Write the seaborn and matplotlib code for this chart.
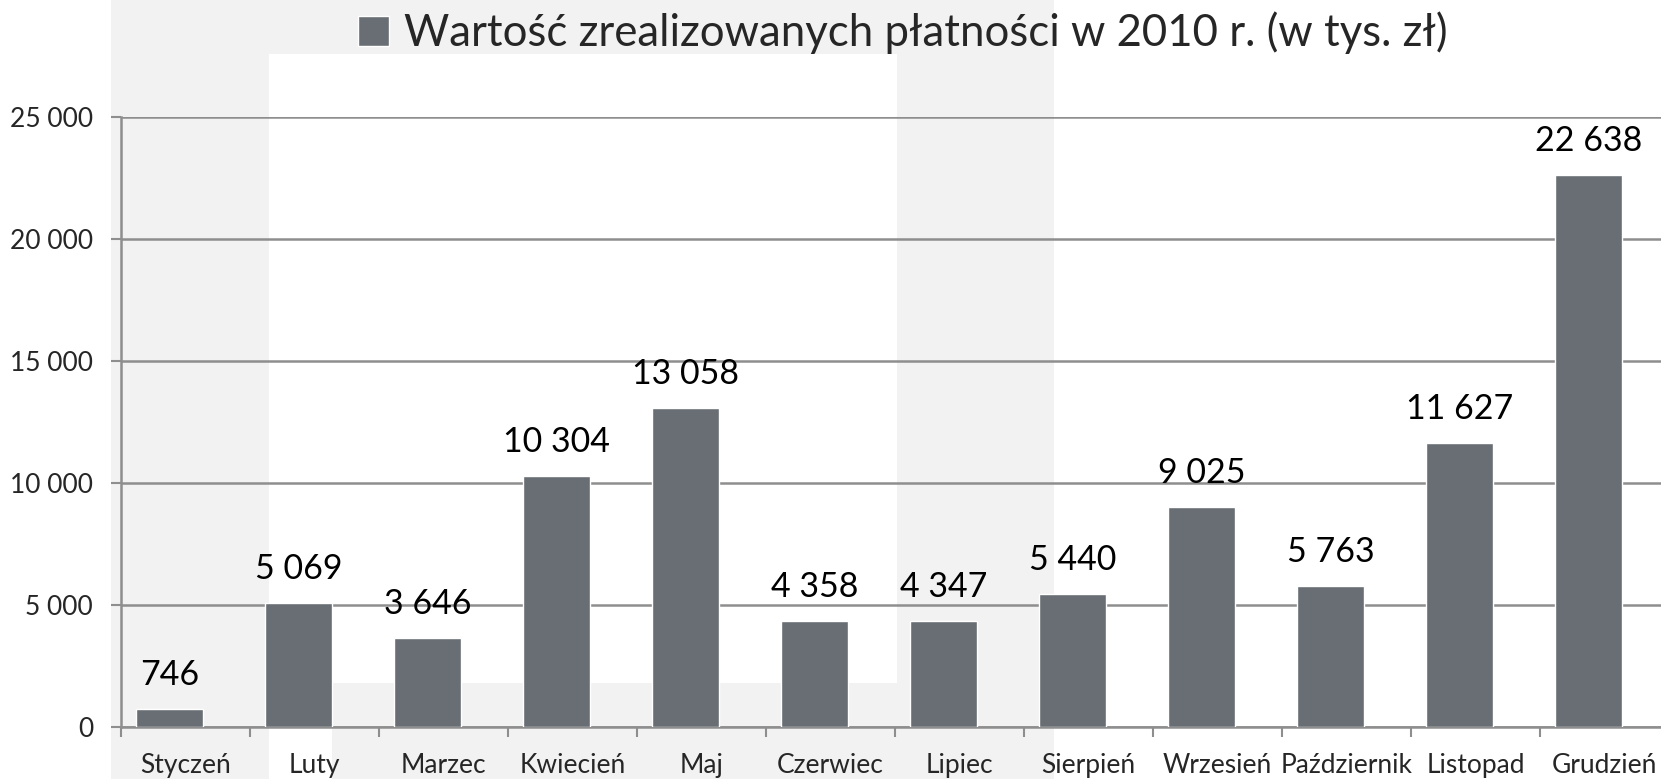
import numpy as np
import pandas as pd
import matplotlib
matplotlib.use('Agg')
import matplotlib.pyplot as plt
from matplotlib.patches import Rectangle
import seaborn as sns

months = ['Styczeń', 'Luty', 'Marzec', 'Kwiecień', 'Maj', 'Czerwiec', 'Lipiec',
          'Sierpień', 'Wrzesień', 'Październik', 'Listopad', 'Grudzień']
values = [746, 5069, 3646, 10304, 13058, 4358, 4347, 5440, 9025, 5763, 11627, 22638]
y_ticks = [0, 5000, 10000, 15000, 20000, 25000]
title = 'Wartość zrealizowanych płatności w 2010 r. (w tys. zł)'

W, H = 1661, 779
BAR = '#686e74'
GRID = '#8e8e8e'
BG = '#f2f2f2'


def fmt(v):
    return f'{v:,}'.replace(',', ' ')


sns.set_style('white')
plt.rcParams['font.family'] = ['Lato', 'DejaVu Sans']

df = pd.DataFrame({'miesiac': months, 'wartosc': values})

fig = plt.figure(figsize=(W / 100, H / 100), dpi=100)
fig.patch.set_facecolor('white')

# light gray blocks behind the chart (pixel boxes: x0, y0, x1, y1 from top-left)
def px_rect(x0, y0, x1, y1, color):
    fig.add_artist(Rectangle((x0 / W, 1 - y1 / H), (x1 - x0) / W, (y1 - y0) / H,
                             transform=fig.transFigure, facecolor=color,
                             edgecolor='none', zorder=-10))

px_rect(111, 0, 1054, H, BG)
px_rect(269, 54, 897, 683, 'white')
px_rect(269, 683, 332, H, 'white')

ax = fig.add_axes([121 / W, (H - 727) / H, (1669 - 121) / W, (727 - 117) / H])
ax.set_facecolor('none')

sns.barplot(data=df, x='miesiac', y='wartosc', color=BAR, width=0.52,
            saturation=1, ax=ax, label=title, zorder=3)

# bars sit a bit left of the category centre, like in the original
for p in ax.patches:
    p.set_x(p.get_x() - 0.125)

ax.bar_label(ax.containers[0], labels=[fmt(v) for v in values], padding=13,
             fontsize=24.5, color='black', clip_on=False)

ax.set_xlim(-0.5, 11.5)
ax.set_ylim(0, 25000)
ax.set_yticks(y_ticks)
ax.set_yticklabels([fmt(v) for v in y_ticks], fontsize=19)
ax.yaxis.grid(True, color=GRID, linewidth=1.8)
ax.set_axisbelow(True)

ax.set_xticks(np.arange(13) - 0.5)
ax.set_xticklabels([''] * 13)
ax.set_xticks(np.arange(12), minor=True)
ax.set_xticklabels(months, minor=True, fontsize=19)
ax.tick_params(axis='x', which='major', length=7, width=1.5, color=GRID, direction='out', bottom=True)
ax.tick_params(axis='x', which='minor', length=0, pad=19)
ax.tick_params(axis='y', length=7, width=1.5, color=GRID, pad=13, left=True)
ax.set_xlabel('')
ax.set_ylabel('')

sns.despine(ax=ax, top=True, right=True)
for s in ['left', 'bottom']:
    ax.spines[s].set_color(GRID)
    ax.spines[s].set_linewidth(1.8)

ax.legend().remove()
fig.legend(handles=[ax.patches[0]], labels=[title], loc='center',
           bbox_to_anchor=(903 / W, 1 - 33 / H), frameon=False, fontsize=31.5,
           handlelength=0.7, handleheight=0.7, handletextpad=0.35)

fig.savefig('out.png', dpi=100)
